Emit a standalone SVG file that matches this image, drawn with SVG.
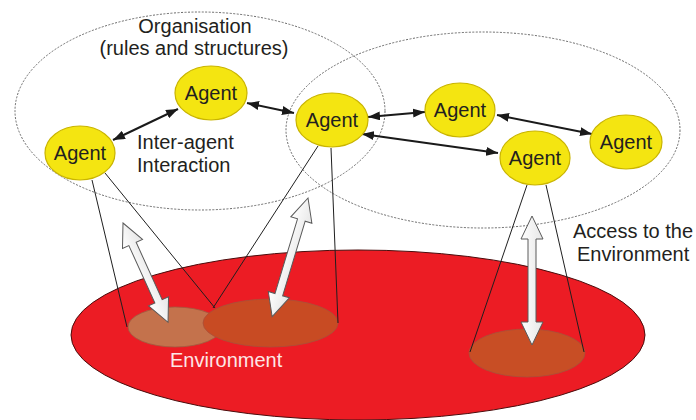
<svg xmlns="http://www.w3.org/2000/svg" width="696" height="420" viewBox="0 0 696 420">
<defs>
<marker id="ah" viewBox="0 0 12 9" refX="12" refY="4.5" markerWidth="12" markerHeight="9" markerUnits="userSpaceOnUse" orient="auto-start-reverse">
<path d="M0,0 L12,4.5 L0,9 z" fill="#1a1a1a"/>
</marker>
<linearGradient id="wg" x1="0" y1="0" x2="1" y2="0">
<stop offset="0" stop-color="#ffffff"/>
<stop offset="1" stop-color="#e6e6e6"/>
</linearGradient>
</defs>
<style>
.org{fill:none;stroke:#6a6a6a;stroke-width:1;stroke-dasharray:2 1.5}
.agent{fill:#f4e511;stroke:#c9b400;stroke-width:1.2}
.t{font-family:"Liberation Sans",Arial,sans-serif;font-size:20px;fill:#231f20}
.at{font-family:"Liberation Sans",Arial,sans-serif;font-size:20px;fill:#231f20;text-anchor:middle}
.cone{stroke:#1f1f1f;stroke-width:1;fill:none}
.link{stroke:#1a1a1a;stroke-width:2;fill:none;marker-start:url(#ah);marker-end:url(#ah)}
.big{fill:url(#wg);stroke:#5a5a5a;stroke-width:1}
</style>
<rect width="696" height="420" fill="#ffffff"/>
<g id="organisation">
<ellipse class="org" cx="200" cy="111" rx="185" ry="99"/>
<text class="at" x="195" y="33">Organisation</text>
<text class="at" x="194" y="55">(rules and structures)</text>
</g>
<g id="organisation2">
<ellipse class="org" cx="483" cy="130" rx="197" ry="98"/>
</g>
<g id="environment">
<ellipse cx="358" cy="335" rx="287" ry="85" fill="#ec1c24" stroke="#4a0c0c" stroke-width="1"/>
<ellipse cx="175" cy="327" rx="47" ry="20" fill="#c4724c" stroke="#a05a40" stroke-width="0.8"/>
<ellipse cx="270.5" cy="323" rx="67.5" ry="24" fill="#c84b23" stroke="#a8503a" stroke-width="0.8"/>
<ellipse cx="527" cy="353" rx="58" ry="24" fill="#c84e25" stroke="#a8503a" stroke-width="0.8"/>
<text x="170" y="367" font-family="Liberation Sans, Arial, sans-serif" font-size="20" fill="#fde6e6">Environment</text>
</g>
<g id="connectors">
<line class="cone" x1="92" y1="180" x2="127" y2="327"/>
<line class="cone" x1="105" y1="173" x2="215" y2="308"/>
<line class="cone" x1="318" y1="146" x2="213" y2="308"/>
<line class="cone" x1="331" y1="148" x2="338" y2="323"/>
<line class="cone" x1="527" y1="185" x2="470" y2="352"/>
<line class="cone" x1="546" y1="185" x2="584" y2="352"/>
<polygon class="big" transform="translate(123,223) rotate(-24.4)" points="0,0 11,23 4,23 4,86 11,86 0,109 -11,86 -4,86 -4,23 -11,23"/>
<polygon class="big" transform="translate(308,198) rotate(16.8)" points="0,0 11,23 4,23 4,101 11,101 0,124 -11,101 -4,101 -4,23 -11,23"/>
<polygon class="big" transform="translate(532,216)" points="0,0 11,23 4,23 4,106 11,106 0,129 -11,106 -4,106 -4,23 -11,23"/>
<line class="link" x1="113" y1="140" x2="178" y2="109"/>
<line class="link" x1="247" y1="103" x2="294" y2="113"/>
<line class="link" x1="368" y1="117" x2="425" y2="112"/>
<line class="link" x1="362" y1="134" x2="498" y2="153"/>
<line class="link" x1="497" y1="115" x2="592" y2="134"/>
</g>
<g id="agentA"><ellipse class="agent" cx="80" cy="153" rx="35" ry="27"/><text class="at" x="80" y="160">Agent</text></g>
<g id="agentB"><ellipse class="agent" cx="211" cy="93" rx="36" ry="27"/><text class="at" x="211" y="100">Agent</text></g>
<g id="agentC"><ellipse class="agent" cx="332" cy="120" rx="36" ry="27"/><text class="at" x="332" y="127">Agent</text></g>
<g id="agentD"><ellipse class="agent" cx="460" cy="110" rx="35" ry="27"/><text class="at" x="460" y="117">Agent</text></g>
<g id="agentE"><ellipse class="agent" cx="535" cy="158" rx="35" ry="27"/><text class="at" x="535" y="165">Agent</text></g>
<g id="agentF"><ellipse class="agent" cx="626" cy="142" rx="36" ry="27"/><text class="at" x="626" y="149">Agent</text></g>
<g id="labels">
<text class="t" x="137" y="149">Inter-agent</text>
<text class="t" x="137" y="172">Interaction</text>
<text class="t" x="573" y="238">Access to the</text>
<text class="t" x="577" y="261">Environment</text>
</g>
</svg>
